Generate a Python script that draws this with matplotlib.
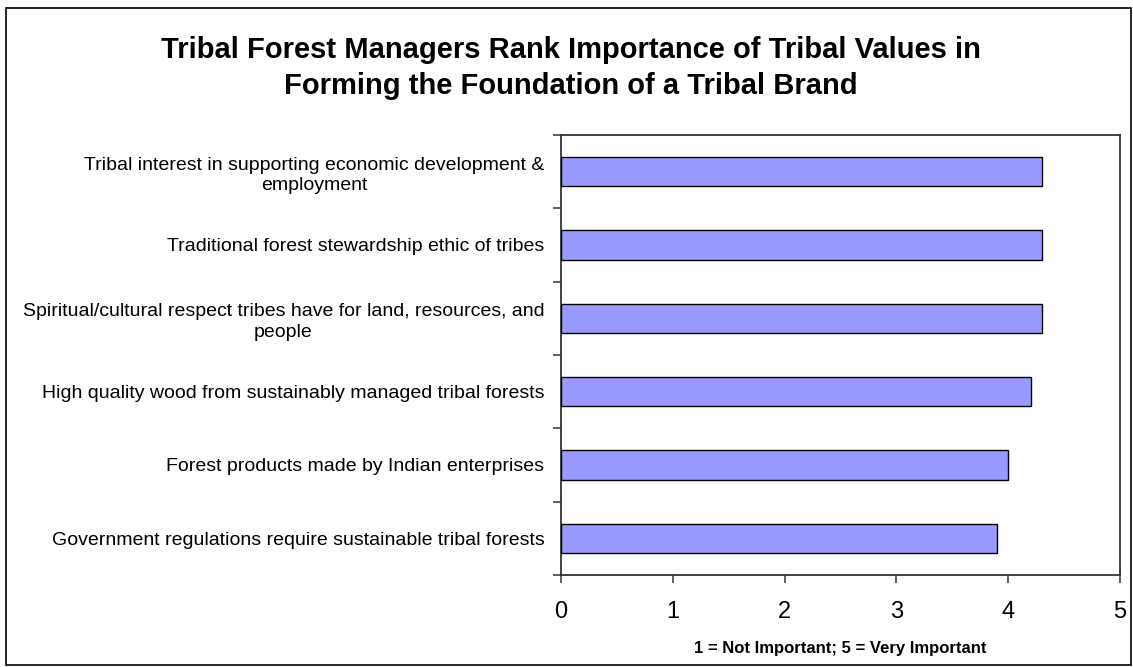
import matplotlib
matplotlib.use("Agg")
import matplotlib.pyplot as plt
import numpy as np

plt.rcParams['font.family'] = ['Liberation Sans', 'DejaVu Sans']

# categories top to bottom, as printed on the chart
categories = ["Tribal interest in supporting economic development &\nemployment",
              "Traditional forest stewardship ethic of tribes",
              "Spiritual/cultural respect tribes have for land, resources, and\npeople",
              "High quality wood from sustainably managed tribal forests",
              "Forest products made by Indian enterprises",
              "Government regulations require sustainable tribal forests"]
scores = [4.3, 4.3, 4.3, 4.2, 4.0, 3.9]
x_ticks = [0, 1, 2, 3, 4, 5]

fig = plt.figure(figsize=(11.33, 6.67), dpi=100)
fig.patches.append(plt.Rectangle((6 / 1133, 2 / 667), 1 - 8 / 1133, 1 - 10 / 667,
                                 transform=fig.transFigure, fill=False,
                                 edgecolor='black', linewidth=1.2))

ax = fig.add_axes([561 / 1133, 1 - 575 / 667, (1120 - 561) / 1133, (575 - 135) / 667])

ypos = np.arange(len(categories))
ax.barh(ypos, scores, height=0.4, color='#9999ff', edgecolor='black', linewidth=1.0, zorder=3)

ax.set_xlim(0, 5)
ax.set_ylim(len(categories) - 0.5, -0.5)
ax.set_xticks(x_ticks)
ax.set_xticklabels([str(t) for t in x_ticks], fontsize=17)

# category tick marks sit between the bars, labels centred on the bars
ax.set_yticks(np.arange(-0.5, len(categories) + 0.5, 1))
ax.set_yticklabels([])
ax.set_yticks(ypos, minor=True)
ax.set_yticklabels(categories, minor=True, fontsize=14, multialignment='center',
                   linespacing=1.25)
ax.tick_params(axis='y', which='minor', length=0, pad=12)
ax.tick_params(axis='y', which='major', length=6, width=1.1, color='#333333')
ax.tick_params(axis='x', length=6, width=1.1, color='#333333', pad=13)

for s in ax.spines.values():
    s.set_color('#333333')
    s.set_linewidth(1.3)

ax.set_xlabel("1 = Not Important; 5 = Very Important", fontsize=12, fontweight='bold', labelpad=13)

fig.text(571 / 1133, 1 - 58 / 667, "Tribal Forest Managers Rank Importance of Tribal Values in",
         ha='center', va='baseline', fontsize=21, fontweight='bold')
fig.text(571 / 1133, 1 - 94 / 667, "Forming the Foundation of a Tribal Brand",
         ha='center', va='baseline', fontsize=21, fontweight='bold')

fig.savefig("out.png", dpi=100)
